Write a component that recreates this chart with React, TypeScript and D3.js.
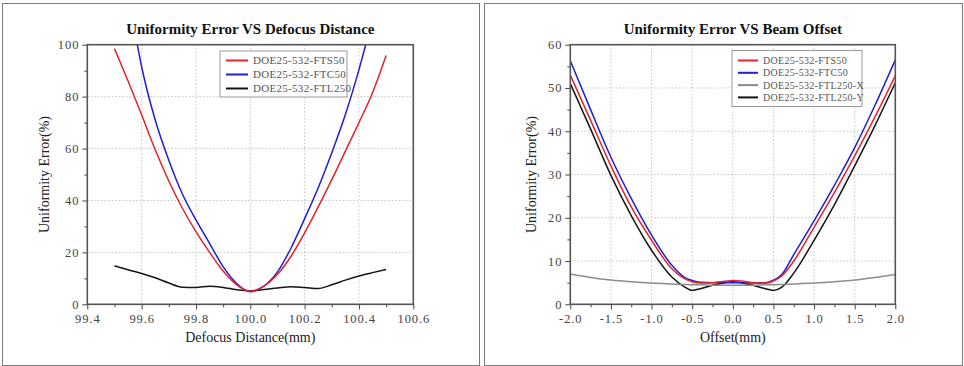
import React, { useEffect, useRef } from 'react';
import * as d3 from 'd3';

// ---- left chart: uniformity error vs defocus distance ----
const defocusX = [99.5, 99.55, 99.6, 99.65, 99.7, 99.75, 99.8, 99.85, 99.9, 99.95, 100.0,
  100.05, 100.1, 100.15, 100.2, 100.25, 100.3, 100.35, 100.4, 100.45, 100.5];
const fts50Defocus = [98.5, 86.0, 73.0, 59.5, 47.5, 37.0, 28.0, 20.0, 12.8, 7.5, 5.0,
  7.0, 11.5, 18.5, 27.5, 37.5, 48.0, 59.0, 70.0, 81.5, 95.8];
const ftc50DefocusX = [99.584, 99.6, 99.65, 99.7, 99.75, 99.8, 99.85, 99.9, 99.95, 100.0,
  100.05, 100.1, 100.15, 100.2, 100.25, 100.3, 100.35, 100.4, 100.425];
const ftc50Defocus = [100, 91.5, 71.0, 55.5, 42.5, 32.5, 23.5, 14.5, 8.0, 4.8,
  7.0, 12.5, 21.7, 33.0, 44.9, 58.4, 73.1, 90.4, 100];
const ftl250Defocus = [14.8, 13.3, 11.9, 10.2, 8.2, 6.6, 6.5, 7.0, 6.5, 5.6, 5.2,
  5.7, 6.3, 6.8, 6.5, 6.1, 7.5, 9.3, 10.9, 12.2, 13.4];
const defocusTicks = [99.4, 99.6, 99.8, 100.0, 100.2, 100.4, 100.6];
const defocusMinor = [99.5, 99.7, 99.9, 100.1, 100.3, 100.5];
const errorTicksA = [0, 20, 40, 60, 80, 100];
const errorMinorA = [10, 30, 50, 70, 90];

// ---- right chart: uniformity error vs beam offset ----
const offsetX = [-2, -1.75, -1.5, -1.25, -1, -0.75, -0.6, -0.5, -0.4, -0.25, -0.1, 0,
  0.1, 0.25, 0.4, 0.5, 0.6, 0.75, 1, 1.25, 1.5, 1.75, 2];
const fts50Offset = [53.0, 42.5, 32.0, 22.5, 14.8, 8.2, 6.0, 5.2, 4.9, 5.0, 5.3, 5.5,
  5.4, 5.0, 4.9, 5.4, 6.5, 10.0, 17.8, 25.8, 34.3, 43.3, 52.8];
const ftc50Offset = [56.3, 45.0, 34.0, 24.5, 16.0, 9.0, 6.3, 5.5, 5.1, 5.0, 5.0, 5.0,
  5.0, 4.9, 5.0, 5.6, 6.8, 11.5, 19.3, 27.5, 36.2, 46.0, 56.5];
const ftl250XOffset = [7.0, 6.2, 5.6, 5.2, 4.9, 4.7, 4.6, 4.5, 4.5, 4.4, 4.4, 4.4,
  4.4, 4.4, 4.5, 4.5, 4.6, 4.7, 4.9, 5.2, 5.6, 6.2, 6.9];
const ftl250YOffset = [51.0, 40.5, 29.8, 20.5, 12.5, 6.3, 4.1, 3.2, 3.6, 4.4, 5.0, 5.2,
  5.0, 4.4, 3.6, 3.2, 3.9, 7.2, 14.8, 23.0, 32.0, 41.3, 51.2];
const offsetTicks = [-2, -1.5, -1, -0.5, 0, 0.5, 1, 1.5, 2];
const offsetMinor = [-1.75, -1.25, -0.75, -0.25, 0.25, 0.75, 1.25, 1.75];
const errorTicksB = [0, 10, 20, 30, 40, 50, 60];
const errorMinorB = [5, 15, 25, 35, 45, 55];

const RED = '#e4232a';
const BLUE = '#1f1fd6';
const BLACK = '#151515';
const GRAY = '#8c8c8c';
const SERIF = '"Liberation Serif", "Times New Roman", serif';

interface Series { name: string; color: string; xs: number[]; ys: number[]; }
interface PanelCfg {
  box: [number, number, number, number];
  plot: [number, number, number, number];
  title: string; xLabel: string; yLabel: string; yLabelX: number;
  xDomain: [number, number]; yDomain: [number, number];
  xTicks: number[]; xMinor: number[]; yTicks: number[]; yMinor: number[];
  series: Series[];
  legend: { x: number; y: number; w: number; h: number; first: number; step: number; line: number; font: number };
}

const panels: PanelCfg[] = [
  {
    box: [2, 3, 477, 362], plot: [87.3, 44.7, 413.3, 304.3],
    title: 'Uniformity Error VS Defocus Distance', xLabel: 'Defocus Distance(mm)',
    yLabel: 'Uniformity Error(%)', yLabelX: 44,
    xDomain: [99.4, 100.6], yDomain: [0, 100],
    xTicks: defocusTicks, xMinor: defocusMinor, yTicks: errorTicksA, yMinor: errorMinorA,
    series: [
      { name: 'DOE25-532-FTS50', color: RED, xs: defocusX, ys: fts50Defocus },
      { name: 'DOE25-532-FTC50', color: BLUE, xs: ftc50DefocusX, ys: ftc50Defocus },
      { name: 'DOE25-532-FTL250', color: BLACK, xs: defocusX, ys: ftl250Defocus },
    ],
    legend: { x: 220, y: 51, w: 127, h: 46, first: 60.5, step: 14, line: 22, font: 11 },
  },
  {
    box: [484, 3, 478, 362], plot: [570.3, 44.7, 895.3, 304.3],
    title: 'Uniformity Error VS Beam Offset', xLabel: 'Offset(mm)',
    yLabel: 'Uniformity Error(%)', yLabelX: 531,
    xDomain: [-2, 2], yDomain: [0, 60],
    xTicks: offsetTicks, xMinor: offsetMinor, yTicks: errorTicksB, yMinor: errorMinorB,
    series: [
      { name: 'DOE25-532-FTS50', color: RED, xs: offsetX, ys: fts50Offset },
      { name: 'DOE25-532-FTC50', color: BLUE, xs: offsetX, ys: ftc50Offset },
      { name: 'DOE25-532-FTL250-X', color: GRAY, xs: offsetX, ys: ftl250XOffset },
      { name: 'DOE25-532-FTL250-Y', color: BLACK, xs: offsetX, ys: ftl250YOffset },
    ],
    legend: { x: 732, y: 50.5, w: 130, h: 56, first: 60.5, step: 12.3, line: 20, font: 10 },
  },
];

function drawPanel(svg: d3.Selection<SVGSVGElement, unknown, null, undefined>, cfg: PanelCfg, idx: number) {
  const [bx, by, bw, bh] = cfg.box;
  const [x0, y0, x1, y1] = cfg.plot;
  const g = svg.append('g');

  g.append('rect')
    .attr('x', bx + 0.5).attr('y', by + 0.5).attr('width', bw).attr('height', bh)
    .attr('fill', '#fff').attr('stroke', '#7a7a7a').attr('stroke-width', 1);

  const x = d3.scaleLinear().domain(cfg.xDomain).range([x0, x1]);
  const y = d3.scaleLinear().domain(cfg.yDomain).range([y1, y0]);

  // grid
  const grid = g.append('g').attr('stroke', '#c4c4c4').attr('stroke-width', 1).attr('stroke-dasharray', '1.5,2');
  cfg.xTicks.slice(1, -1).forEach((t) => {
    grid.append('line').attr('x1', x(t)).attr('x2', x(t)).attr('y1', y0).attr('y2', y1);
  });
  cfg.yTicks.slice(1, -1).forEach((t) => {
    grid.append('line').attr('x1', x0).attr('x2', x1).attr('y1', y(t)).attr('y2', y(t));
  });

  // axes (outward ticks)
  const fmtX = (d: d3.NumberValue) => (+d).toFixed(1);
  const styleAxis = (a: d3.Selection<SVGGElement, unknown, null, undefined>) => {
    a.select('.domain').remove();
    a.selectAll('line').attr('stroke', '#444').attr('stroke-width', 1);
    a.selectAll('text').attr('fill', '#444').attr('font-family', SERIF).attr('font-size', 12.5)
      .attr('letter-spacing', 0.9);
  };
  g.append('g').attr('transform', `translate(0,${y1})`)
    .call(d3.axisBottom(x).tickValues(cfg.xTicks).tickSize(5).tickPadding(5).tickFormat(fmtX))
    .call(styleAxis);
  g.append('g').attr('transform', `translate(0,${y1})`)
    .call(d3.axisBottom(x).tickValues(cfg.xMinor).tickSize(3).tickFormat(() => ''))
    .call(styleAxis);
  g.append('g').attr('transform', `translate(${x0},0)`)
    .call(d3.axisLeft(y).tickValues(cfg.yTicks).tickSize(5).tickPadding(3).tickFormat(d3.format('d')))
    .call(styleAxis);
  g.append('g').attr('transform', `translate(${x0},0)`)
    .call(d3.axisLeft(y).tickValues(cfg.yMinor).tickSize(3).tickFormat(() => ''))
    .call(styleAxis);

  // lines
  const clipId = `clip-${idx}`;
  g.append('clipPath').attr('id', clipId)
    .append('rect').attr('x', x0).attr('y', y0).attr('width', x1 - x0).attr('height', y1 - y0);
  const line = d3.line<[number, number]>()
    .x((d) => x(d[0])).y((d) => y(d[1]))
    .curve(d3.curveMonotoneX);
  const lines = g.append('g').attr('clip-path', `url(#${clipId})`);
  // draw gray/black first so red and blue lie on top
  [...cfg.series].reverse().forEach((s) => {
    lines.append('path')
      .datum(s.xs.map((v, i) => [v, s.ys[i]] as [number, number]))
      .attr('d', line)
      .attr('fill', 'none')
      .attr('stroke', s.color)
      .attr('stroke-width', 1.5);
  });

  // frame
  g.append('rect')
    .attr('x', x0).attr('y', y0).attr('width', x1 - x0).attr('height', y1 - y0)
    .attr('fill', 'none').attr('stroke', '#555').attr('stroke-width', 1.6);

  // legend
  const lg = cfg.legend;
  const leg = g.append('g');
  leg.append('rect').attr('x', lg.x).attr('y', lg.y).attr('width', lg.w).attr('height', lg.h)
    .attr('fill', '#fff').attr('stroke', '#9a9a9a').attr('stroke-width', 1);
  cfg.series.forEach((s, i) => {
    const ly = lg.first + i * lg.step;
    leg.append('line')
      .attr('x1', lg.x + 6).attr('x2', lg.x + 6 + lg.line).attr('y1', ly).attr('y2', ly)
      .attr('stroke', s.color).attr('stroke-width', 2);
    leg.append('text')
      .attr('x', lg.x + 11 + lg.line).attr('y', ly).attr('dy', '0.35em')
      .attr('font-family', SERIF).attr('font-size', lg.font).attr('fill', '#555')
      .attr('letter-spacing', 0.3)
      .text(s.name);
  });

  // titles
  const cx = (x0 + x1) / 2;
  g.append('text').attr('x', cx).attr('y', 29).attr('dy', '0.35em')
    .attr('text-anchor', 'middle').attr('font-family', SERIF).attr('font-weight', 'bold')
    .attr('font-size', 15).attr('fill', '#111').text(cfg.title);
  g.append('text').attr('x', cx).attr('y', 337).attr('dy', '0.35em')
    .attr('text-anchor', 'middle').attr('font-family', SERIF)
    .attr('font-size', 14).attr('fill', '#222').text(cfg.xLabel);
  g.append('text')
    .attr('transform', `translate(${cfg.yLabelX},${(y0 + y1) / 2}) rotate(-90)`)
    .attr('dy', '0.35em').attr('text-anchor', 'middle').attr('font-family', SERIF)
    .attr('font-size', 14).attr('fill', '#222').text(cfg.yLabel);
}

const App: React.FC = () => {
  const ref = useRef<SVGSVGElement | null>(null);

  useEffect(() => {
    const svg = d3.select(ref.current as SVGSVGElement);
    svg.selectAll('*').remove();
    svg.append('rect').attr('width', 964).attr('height', 366).attr('fill', '#fff');
    panels.forEach((p, i) => drawPanel(svg, p, i));
  }, []);

  return (
    <svg
      ref={ref}
      width={964}
      height={366}
      style={{ position: 'absolute', left: 0, top: 0, display: 'block' }}
    />
  );
};

export default App;
